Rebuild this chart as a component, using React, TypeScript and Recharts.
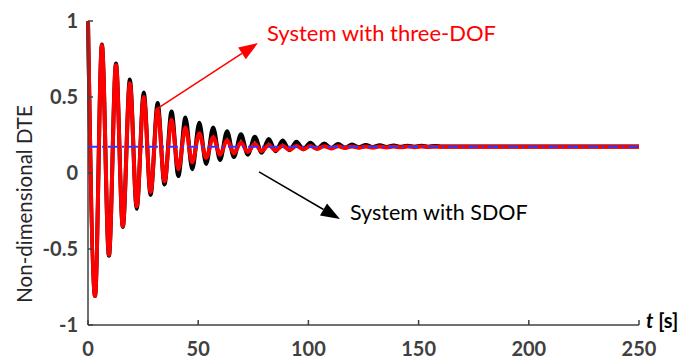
import { LineChart, Line, XAxis, YAxis, ReferenceLine } from 'recharts';

// time of each peak / trough [s]
const time = [
  0, 3.2, 6.3, 9.5, 12.7, 15.8, 19.0, 22.1, 25.3, 28.4, 31.6, 34.7, 37.9, 41.0, 44.2, 47.3,
  50.5, 53.6, 56.8, 59.9, 63.1, 66.2, 69.4, 72.5, 75.7, 78.8, 82.0, 85.1, 88.3, 91.4, 94.6,
  97.7, 100.9, 104.0, 107.2, 110.3, 113.5, 116.6, 119.8, 122.9, 126.1, 129.2, 132.4, 135.5,
  138.7, 141.8, 145.0, 148.1, 151.3, 154.4, 157.6, 160.7, 250,
];

// system with SDOF (black)
const sdof = [
  1.0, -0.81, 0.845, -0.545, 0.72, -0.355, 0.615, -0.235, 0.53, -0.145, 0.46, -0.075, 0.405, -0.02,
  0.365, 0.025, 0.33, 0.06, 0.3, 0.085, 0.275, 0.105, 0.255, 0.12, 0.238, 0.133, 0.224, 0.143,
  0.213, 0.15, 0.205, 0.156, 0.199, 0.161, 0.194, 0.164, 0.19, 0.167, 0.187, 0.169, 0.185,
  0.17, 0.183, 0.171, 0.181, 0.172, 0.18, 0.173, 0.179, 0.173, 0.178, 0.174, 0.175,
];

// system with three-DOF (red)
const threeDof = [
  1.0, -0.81, 0.84, -0.54, 0.71, -0.35, 0.59, -0.22, 0.5, -0.125, 0.42, -0.055, 0.35, 0.025,
  0.3, 0.07, 0.262, 0.1, 0.236, 0.12, 0.216, 0.13, 0.201, 0.138, 0.19, 0.144, 0.184, 0.149,
  0.18, 0.153, 0.178, 0.156, 0.177, 0.159, 0.176, 0.162, 0.176, 0.164, 0.175, 0.166, 0.175,
  0.167, 0.174, 0.168, 0.174, 0.169, 0.174, 0.17, 0.174, 0.171, 0.173, 0.172, 0.173,
];

const steadyState = 0.173;

const xTicks = [0, 50, 100, 150, 200, 250];
const yTicks = [-1, -0.5, 0, 0.5, 1];

// annotation arrows, [start, tip] in data units
const redArrow = [
  { x: 30.4, y: 0.414 },
  { x: 77.1, y: 0.855 },
];
const blackArrow = [
  { x: 77.6, y: 0.007 },
  { x: 114.3, y: -0.303 },
];

const rows = time.map((t, i) => ({ t, sdof: sdof[i], threeDof: threeDof[i] }));

const font = 'Lato, "Open Sans", sans-serif';
const axisColor = '#404040';

function arrowShape(color: string) {
  return (props: any) => {
    const { x1, y1, x2, y2 } = props;
    const dx = x2 - x1;
    const dy = y2 - y1;
    const len = Math.sqrt(dx * dx + dy * dy) || 1;
    const ux = dx / len;
    const uy = dy / len;
    const head = 19;
    const half = 7;
    const bx = x2 - ux * head;
    const by = y2 - uy * head;
    const pts = `${x2},${y2} ${bx - uy * half},${by + ux * half} ${bx + uy * half},${by - ux * half}`;
    return (
      <g>
        <line x1={x1} y1={y1} x2={bx} y2={by} stroke={color} strokeWidth={1.5} />
        <polygon points={pts} fill={color} />
      </g>
    );
  };
}

export default function App() {
  return (
    <div style={{ position: 'absolute', left: 0, top: 0, width: 687, height: 360, background: '#fff' }}>
      <LineChart width={687} height={360} data={rows} margin={{ top: 21, right: 48, bottom: 0, left: 0 }}>
        <XAxis
          dataKey="t"
          type="number"
          domain={[0, 250]}
          ticks={xTicks}
          height={35}
          tickSize={-5}
          tickMargin={22}
          axisLine={{ stroke: axisColor, strokeWidth: 1.5 }}
          tickLine={{ stroke: axisColor, strokeWidth: 1.5 }}
          tick={{ fill: axisColor, fontSize: 20, fontWeight: 700, fontFamily: font }}
        />
        <YAxis
          type="number"
          domain={[-1, 1]}
          ticks={yTicks}
          width={88}
          tickSize={-5}
          tickMargin={15}
          axisLine={{ stroke: axisColor, strokeWidth: 1.5 }}
          tickLine={{ stroke: axisColor, strokeWidth: 1.5 }}
          tick={{ fill: axisColor, fontSize: 20, fontWeight: 700, fontFamily: font }}
        />
        <Line dataKey="sdof" type="monotone" stroke="#000000" strokeWidth={4} dot={false} isAnimationActive={false} />
        <Line dataKey="threeDof" type="monotone" stroke="#ff0000" strokeWidth={4} dot={false} isAnimationActive={false} />
        <ReferenceLine y={steadyState} stroke="#3535ff" strokeWidth={2} strokeDasharray="10 4 2 4" />
        <ReferenceLine segment={redArrow} shape={arrowShape('#ff0000')} />
        <ReferenceLine segment={blackArrow} shape={arrowShape('#000000')} />
      </LineChart>
      <svg width={687} height={360} style={{ position: 'absolute', left: 0, top: 0, pointerEvents: 'none' }}>
        <text x={267} y={41} fill="#ff0000" fontSize={22} fontFamily={font}>
          System with three-DOF
        </text>
        <text x={350} y={220} fill="#000000" fontSize={21.5} fontFamily={font}>
          System with SDOF
        </text>
        <text
          x={24}
          y={204}
          fill="#262626"
          fontSize={20.5}
          fontFamily={font}
          textAnchor="middle"
          dominantBaseline="central"
          transform="rotate(-90 24 204)"
        >
          Non-dimensional DTE
        </text>
        <text x={646} y={328} fill="#000000" fontSize={20} fontWeight={700} fontFamily={font}>
          <tspan fontStyle="italic">t</tspan> [s]
        </text>
      </svg>
    </div>
  );
}
